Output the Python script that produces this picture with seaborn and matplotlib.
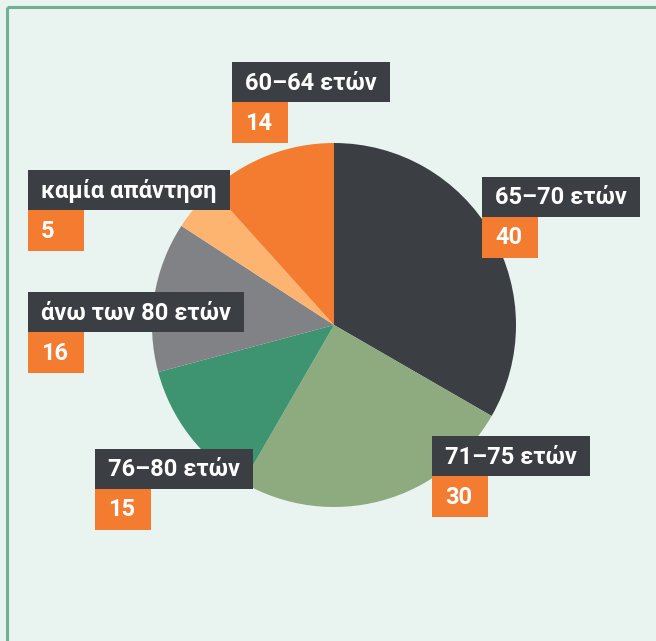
import matplotlib
matplotlib.use("Agg")
import matplotlib.pyplot as plt
import seaborn as sns
from matplotlib.patches import Rectangle

# data
labels = ["65–70 ετών", "71–75 ετών", "76–80 ετών", "άνω των 80 ετών", "καμία απάντηση", "60–64 ετών"]
values = [40, 30, 15, 16, 5, 14]
colors = ["#3b3f44", "#8dab7f", "#3e9371", "#818286", "#fdb470", "#f47c30"]

# label box anchors (top-left, pixels)
label_pos = [(482, 177), (432, 436), (95, 449), (28, 292), (28, 170), (232, 62)]

sns.set_theme(style="white")
plt.rcParams['font.family'] = ['Roboto', 'DejaVu Sans']

W, H = 656, 641
fig = plt.figure(figsize=(W / 100, H / 100), dpi=100)
bg = "#e9f3ef"
fig.patch.set_facecolor(bg)

# pie axes: centre (334, 325), radius 182 px
cx, cy, r = 334, 325, 182
pax = fig.add_axes([(cx - r) / W, (H - cy - r) / H, 2 * r / W, 2 * r / H])
pax.pie(values, colors=colors, startangle=90, counterclock=False,
        wedgeprops=dict(linewidth=0))
pax.set_xlim(-1, 1)
pax.set_ylim(-1, 1)
pax.axis("off")
pax.set_zorder(0)

# full-figure overlay axes in pixel coords for border and labels
ax = fig.add_axes([0, 0, 1, 1])
ax.set_xlim(0, W)
ax.set_ylim(H, 0)
ax.axis("off")
ax.patch.set_alpha(0)
ax.set_zorder(1)
ax.plot([7, 7], [H, 7], color="#72b096", lw=2.2, solid_capstyle="butt")
ax.plot([7, W], [7, 7], color="#72b096", lw=2.2, solid_capstyle="butt")

# labels drawn as dark box + orange value box
fig.canvas.draw()
renderer = fig.canvas.get_renderer()
box_h = 40
num_w = 56
for lab, val, (x, y) in zip(labels, values, label_pos):
    t = ax.text(x + 13, y + box_h / 2 + 1, lab, color="white", fontsize=17,
                fontweight="bold", va="center", ha="left", zorder=5)
    bb = t.get_window_extent(renderer=renderer)
    tw = bb.width
    ax.add_patch(Rectangle((x, y), tw + 26, box_h, color="#3b3f44", zorder=4, lw=0))
    ax.add_patch(Rectangle((x, y + box_h), num_w, box_h + 1, color="#f47c30", zorder=4, lw=0))
    ax.text(x + 13, y + box_h * 1.5 + 1, str(val), color="white", fontsize=17,
            fontweight="bold", va="center", ha="left", zorder=5)

fig.savefig("out.png", dpi=100, facecolor=bg)
